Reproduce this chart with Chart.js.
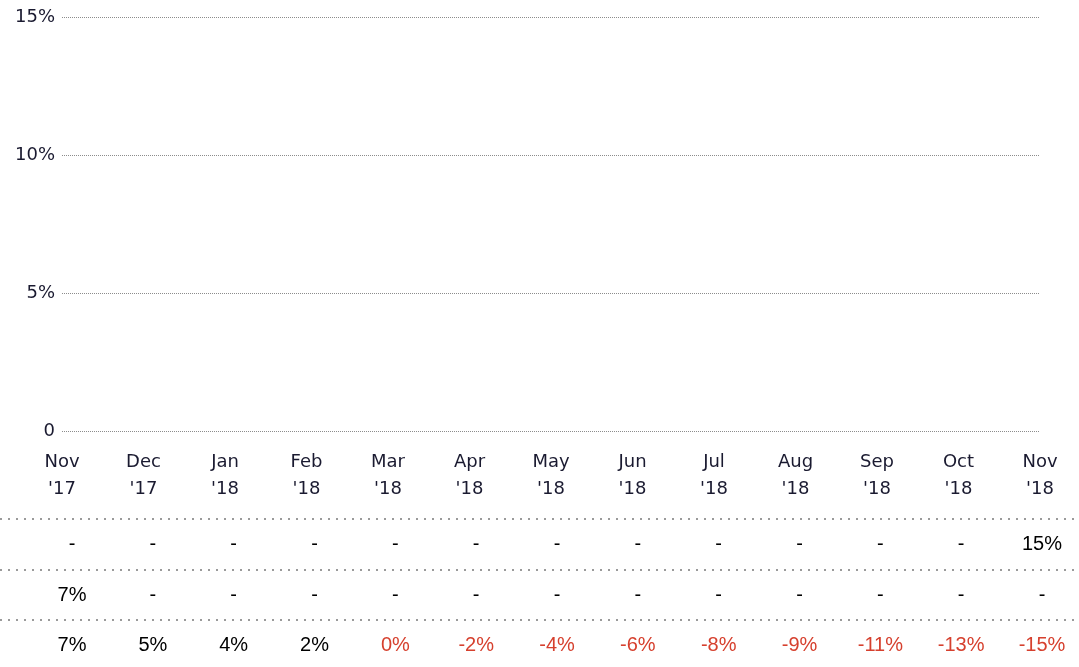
<!DOCTYPE html>
<html>
<head>
<meta charset="utf-8">
<script src="https://cdn.jsdelivr.net/npm/chart.js@4.4.1/dist/chart.umd.min.js"></script>
<style>
  html, body { margin: 0; padding: 0; background: #ffffff; }
  #wrap { width: 1079px; height: 667px; position: relative; }
</style>
</head>
<body>
<div id="wrap"><canvas id="c" width="1079" height="667"></canvas></div>
<script>
// ---- data ----
const categories = [
  ["Nov", "'17"], ["Dec", "'17"], ["Jan", "'18"], ["Feb", "'18"], ["Mar", "'18"],
  ["Apr", "'18"], ["May", "'18"], ["Jun", "'18"], ["Jul", "'18"], ["Aug", "'18"],
  ["Sep", "'18"], ["Oct", "'18"], ["Nov", "'18"]
];
const yTicks = [0, 5, 10, 15];
// table rows (null shown as "-")
const row1 = [null, null, null, null, null, null, null, null, null, null, null, null, 15];
const row2 = [7, null, null, null, null, null, null, null, null, null, null, null, null];
const row3 = [7, 5, 4, 2, 0, -2, -4, -6, -8, -9, -11, -13, -15];
const rows = [row1, row2, row3];

const AXIS_FONT = "'DejaVu Sans', Verdana, sans-serif";
const TABLE_FONT = "'Liberation Sans', Arial, sans-serif";

const tablePlugin = {
  id: 'tablePlugin',
  afterDraw(chart) {
    const ctx = chart.ctx;
    const lineYs = [519, 570, 620];
    const colFirst = 72, colLast = 1042;
    const n = categories.length;
    const step = (colLast - colFirst) / (n - 1);
    ctx.save();
    ctx.strokeStyle = '#9a9a9a';
    ctx.lineWidth = 2;
    ctx.setLineDash([2, 6]);
    lineYs.forEach(y => {
      ctx.beginPath();
      ctx.moveTo(0, y);
      ctx.lineTo(1079, y);
      ctx.stroke();
    });
    ctx.setLineDash([]);
    ctx.font = "20px " + TABLE_FONT;
    ctx.textAlign = 'center';
    ctx.textBaseline = 'middle';
    rows.forEach((r, ri) => {
      const y = lineYs[ri] + 25;
      r.forEach((v, i) => {
        const x = colFirst + i * step;
        let txt, col = '#000000';
        if (v === null) { txt = '-'; }
        else {
          txt = v + '%';
          if (v <= 0) col = '#d6402e';
        }
        ctx.fillStyle = col;
        ctx.fillText(txt, x, y);
      });
    });
    ctx.restore();
  }
};

new Chart(document.getElementById('c'), {
  type: 'bar',
  data: {
    labels: categories,
    datasets: [
      { label: 'Row 1', data: row1, hidden: true, backgroundColor: '#4472c4' },
      { label: 'Row 2', data: row2, hidden: true, backgroundColor: '#a5a5a5' },
      { label: 'Row 3', data: row3, hidden: true, type: 'line', borderColor: '#d6402e' }
    ]
  },
  options: {
    responsive: false,
    animation: false,
    layout: { padding: { top: 2, right: 39, left: 0, bottom: 0 } },
    plugins: { legend: { display: false }, tooltip: { enabled: false } },
    scales: {
      x: {
        offset: false,
        grid: { display: false, drawTicks: false },
        border: { display: false },
        ticks: {
          color: '#1a1a30',
          font: { family: AXIS_FONT, size: 18, lineHeight: 1.5 },
          padding: 18,
          maxRotation: 0,
          autoSkip: false
        },
        afterFit(scale) { scale.height = 236; }
      },
      y: {
        min: 0,
        max: 15,
        afterBuildTicks(scale) { scale.ticks = yTicks.map(v => ({ value: v })); },
        grid: {
          color: '#8c8c8c',
          lineWidth: 1,
          drawTicks: false,
          tickLength: 0
        },
        border: { display: false, dash: [1, 1] },
        ticks: {
          color: '#1a1a30',
          font: { family: AXIS_FONT, size: 18 },
          padding: 7,
          callback: v => v === 0 ? '0' : v + '%'
        },
        afterFit(scale) { scale.width = 62; }
      }
    }
  },
  plugins: [tablePlugin]
});
</script>
</body>
</html>
